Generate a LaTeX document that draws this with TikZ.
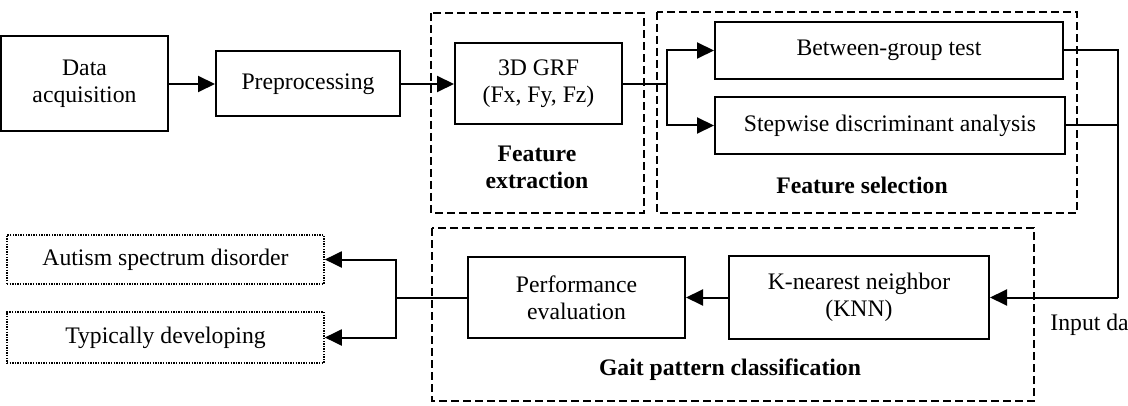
\documentclass[tikz,border=0pt]{standalone}
\usepackage{fontspec}
\setmainfont{Liberation Serif}
\usetikzlibrary{arrows.meta}

\begin{document}
\begin{tikzpicture}[x=0.5pt,y=-0.5pt,
  box/.style={draw, line width=1pt, align=center, inner sep=0pt, font=\fontsize{11.85}{13.5}\selectfont},
  outbox/.style={draw, line width=0.8pt, dash pattern=on 0.7pt off 0.6pt, align=center, inner sep=0pt, font=\fontsize{11.85}{13.5}\selectfont},
  group/.style={draw, line width=1pt, dash pattern=on 4pt off 2pt},
  lbl/.style={align=center, font=\fontsize{11.85}{13.5}\selectfont\bfseries},
  flow/.style={line width=1pt, -{Triangle[length=8.5pt,width=8pt]}},
  wire/.style={line width=1pt}]
\useasboundingbox (0,0) rectangle (1128,406);
\draw[group] (431,13) rectangle (644,213);
\draw[group] (657,12) rectangle (1077,213);
\draw[group] (432,228) rectangle (1034,401);
\node[box, minimum width=83.5pt, minimum height=47.5pt] (acq) at (84.5,84) {Data\\acquisition};
\node[box, minimum width=92pt, minimum height=32.5pt] (prep) at (308,84) {Preprocessing};
\node[box, minimum width=83.5pt, minimum height=40.5pt] (grf) at (538.5,84) {3D GRF\\(Fx, Fy, Fz)};
\node[box, minimum width=174pt, minimum height=28.5pt] (bgt) at (889,50.5) {Between-group test};
\node[box, minimum width=175pt, minimum height=28.5pt] (sda) at (890,125.5) {Stepwise discriminant analysis};
\node[box, minimum width=130pt, minimum height=41.5pt] (knn) at (859,297.5) {K-nearest neighbor\\(KNN)};
\node[box, minimum width=108.5pt, minimum height=40.5pt] (perf) at (576.5,297.5) {Performance\\evaluation};
\node[outbox, minimum width=158.5pt, minimum height=24.5pt] (asd) at (165.5,259.5) {Autism spectrum disorder};
\node[outbox, minimum width=158.5pt, minimum height=25.5pt] (td) at (165.5,337.5) {Typically developing};
\node[lbl] (felbl) at (537,167) {Feature\\extraction};
\node[lbl] (fslbl) at (862,185) {Feature selection};
\node[lbl] (gpclbl) at (730,370) {Gait pattern classification};
\node[anchor=west, inner sep=0pt, font=\fontsize{11.85}{13.5}\selectfont] (inlbl) at (1050,325) {Input da};
\coordinate (split) at (667,84);
\coordinate (merge) at (1118,297.5);
\coordinate (fork) at (396,297.5);
\draw[flow] (acq) -- (prep);
\draw[flow] (prep) -- (grf);
\draw[wire] (grf) -- (split);
\draw[flow] (split) |- (bgt);
\draw[flow] (split) |- (sda);
\draw[wire] (bgt) -| (merge);
\draw[wire] (sda) -- (sda -| merge);
\draw[flow] (merge) -- (knn);
\draw[flow] (knn) -- (perf);
\draw[wire] (perf) -- (fork);
\draw[flow] (fork) |- (asd);
\draw[flow] (fork) |- (td);
\end{tikzpicture}
\end{document}
